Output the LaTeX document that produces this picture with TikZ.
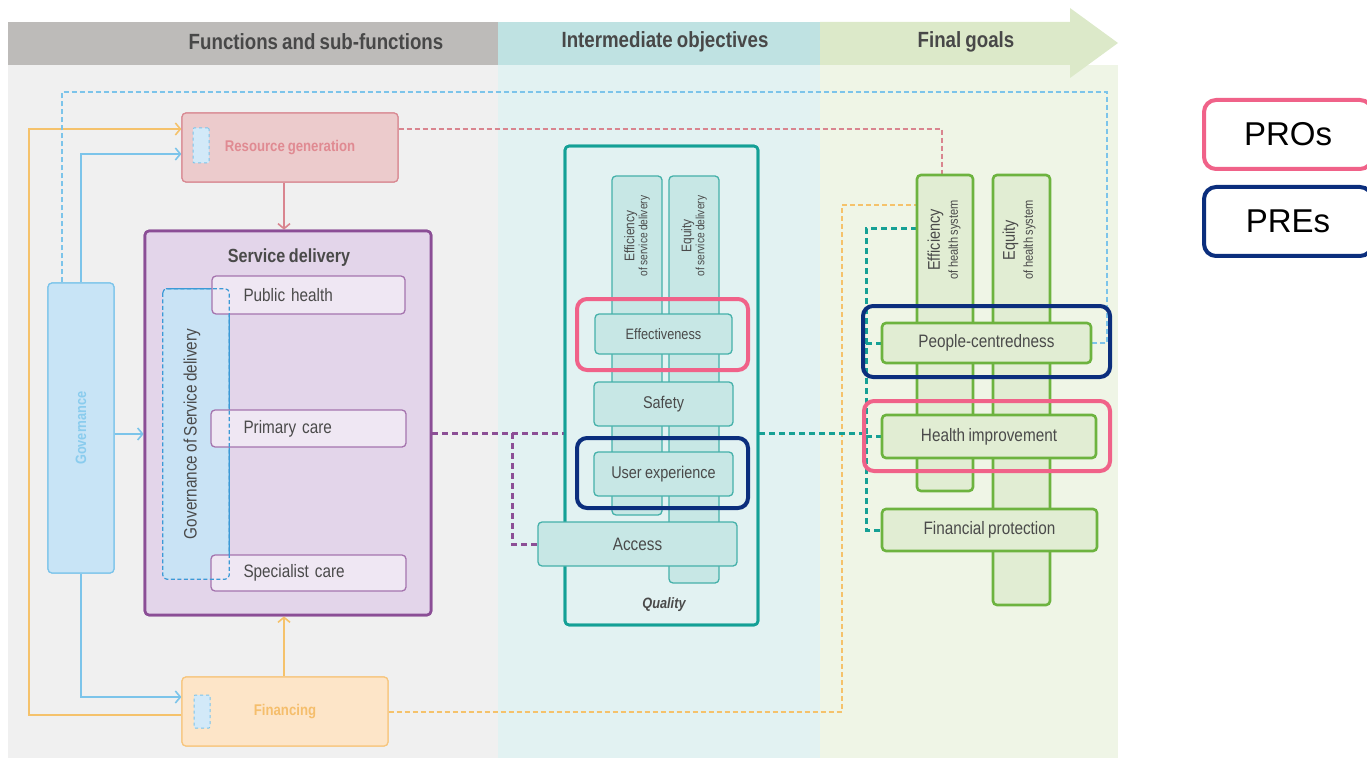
\documentclass[tikz,border=0pt]{standalone}
\usepackage{fontspec}
\setmainfont{Liberation Sans}[FakeStretch=0.85,WordSpace=0.8]
\newfontfamily\legfont{Liberation Sans}
\usetikzlibrary{arrows.meta}
\definecolor{hdgray}{HTML}{BDBBB9}
\definecolor{bdgray}{HTML}{F0F0F0}
\definecolor{hdteal}{HTML}{BFE2E2}
\definecolor{bdteal}{HTML}{E2F2F2}
\definecolor{hdgreen}{HTML}{DCE9C9}
\definecolor{bdgreen}{HTML}{EFF5E6}
\definecolor{hdtxt}{HTML}{484848}
\definecolor{txt}{HTML}{4A4A4A}
\definecolor{rgfill}{HTML}{ECCBCC}
\definecolor{rgdraw}{HTML}{D98A93}
\definecolor{rgtxt}{HTML}{E08A92}
\definecolor{finfill}{HTML}{FDE5C8}
\definecolor{findraw}{HTML}{F7C67E}
\definecolor{fintxt}{HTML}{F5BE6C}
\definecolor{markfill}{HTML}{D2E9F8}
\definecolor{blueline}{HTML}{7CC4EA}
\definecolor{govfill}{HTML}{C8E4F6}
\definecolor{govtxt}{HTML}{8ACCEE}
\definecolor{sdfill}{HTML}{E3D5EA}
\definecolor{sddraw}{HTML}{8B4E96}
\definecolor{subfill}{HTML}{EFE7F3}
\definecolor{subdraw}{HTML}{A574AE}
\definecolor{gsdfill}{HTML}{C9E3F5}
\definecolor{gsddraw}{HTML}{3C9AD6}
\definecolor{qdraw}{HTML}{14A096}
\definecolor{tbfill}{HTML}{C7E7E5}
\definecolor{tbdraw}{HTML}{45B1AA}
\definecolor{grdraw}{HTML}{6DB33F}
\definecolor{grfill}{HTML}{E1EDD3}
\definecolor{hlpink}{HTML}{F06289}
\definecolor{hlnavy}{HTML}{0B2E7D}
\definecolor{orline}{HTML}{F5C26B}
\definecolor{pkline}{HTML}{D9858F}
\definecolor{puline}{HTML}{8C4F96}
\definecolor{tlline}{HTML}{15A095}
\begin{document}
\begin{tikzpicture}[x=1pt,y=-1pt,
  hdtext/.style={text=hdtxt,font=\bfseries\fontsize{22}{24}\selectfont},
  bx/.style={rectangle,rounded corners=4pt,inner sep=0pt,align=center},
  rgbox/.style={bx,fill=rgfill,draw=rgdraw,line width=1.2pt,text=rgtxt,font=\bfseries\fontsize{15.5}{17}\selectfont},
  finbox/.style={bx,fill=finfill,draw=findraw,line width=1.2pt,text=fintxt,font=\bfseries\fontsize{15.5}{17}\selectfont},
  markbox/.style={bx,rounded corners=1pt,fill=markfill,draw=blueline,dashed,line width=1pt},
  govbox/.style={bx,fill=govfill,draw=blueline,line width=1.2pt,text=govtxt,font=\bfseries\fontsize{15}{17}\selectfont},
  sdbox/.style={bx,fill=sdfill,draw=sddraw,line width=2.6pt},
  subbox/.style={bx,fill=subfill,draw=subdraw,line width=1.3pt,text width=130pt,align=left,text=txt,font=\fontsize{18}{20}\selectfont},
  tbox/.style={bx,fill=tbfill,draw=tbdraw,line width=1.3pt,text=txt,font=\fontsize{17}{19}\selectfont},
  gbox/.style={bx,fill=grfill,draw=grdraw,line width=2.6pt,text=txt,font=\fontsize{18}{20}\selectfont},
  hl/.style={rectangle,rounded corners=10pt,line width=4pt,minimum width=#1},
  legbox/.style={rectangle,rounded corners=12pt,line width=4pt,fill=white,minimum width=168pt,minimum height=69pt,font=\legfont\fontsize{33}{36}\selectfont},
  arr/.style={-{Straight Barb[length=5pt,width=12pt]}},
  bline/.style={draw=blueline,line width=1.6pt},
  oline/.style={draw=orline,line width=1.6pt},
  pline/.style={draw=pkline,line width=1.6pt},
  bdash/.style={draw=blueline,line width=1.6pt,dash pattern=on 5pt off 3pt},
  pdash/.style={draw=pkline,line width=1.6pt,dash pattern=on 5pt off 3pt},
  odash/.style={draw=orline,line width=2pt,dash pattern=on 5pt off 3pt},
  pudash/.style={draw=puline,line width=3pt,dash pattern=on 6pt off 4pt},
  tdash/.style={draw=tlline,line width=3pt,dash pattern=on 6pt off 4pt},
  collab/.style={rotate=90,align=center,text=txt,inner sep=0pt}
]
\useasboundingbox (0,0) rectangle (1367,759);
% backgrounds
\fill[hdgray] (8,22) rectangle (498,65);
\fill[bdgray] (8,65) rectangle (498,758);
\fill[hdteal] (498,22) rectangle (820,65);
\fill[bdteal] (498,65) rectangle (820,758);
\fill[bdgreen] (820,65) rectangle (1118,758);
\fill[hdgreen] (820,22) -- (1070,22) -- (1070,8) -- (1118,43) -- (1070,78) -- (1070,65) -- (820,65) -- cycle;
\node[hdtext] (h1) at (316,42) {Functions and sub-functions};
\node[hdtext] (h2) at (665,42) {Intermediate objectives};
\node[hdtext] (h3) at (966,42) {Final goals};

% nodes placed first (positions for connectors)
\node[rgbox,minimum width=216pt,minimum height=69pt] (rg) at (290,147.5) {Resource generation};
\node[finbox,minimum width=206pt,minimum height=69pt] (fin) at (285,711.5) {Financing};
\node[govbox,minimum width=66pt,minimum height=290pt] (gov) at (81,428) {\rotatebox{90}{Governance}};
\node[sdbox,minimum width=286pt,minimum height=384pt] (sd) at (288,423) {};
\node[bx,draw=qdraw,line width=2.6pt,minimum width=193pt,minimum height=479pt] (q) at (661.5,385.5) {};
\node[bx,minimum width=56pt,minimum height=316pt] (ehs) at (945,333) {};
\node[bx,minimum width=57pt,minimum height=430pt] (eqhs) at (1021.5,390) {};
\node[bx,minimum width=209pt,minimum height=40pt] (pcn) at (986.5,343) {};
\node[bx,minimum width=214pt,minimum height=43pt] (hi) at (989,436.5) {};
\node[bx,minimum width=215pt,minimum height=42pt] (fp) at (989.5,530) {};
\node[bx,minimum width=199pt,minimum height=44pt] (acc) at (637.5,544) {};

% connectors
\coordinate (ocorner) at (29,715);
\coordinate (otop) at (29,129);
\draw[oline,arr] (fin.west |- ocorner) -- (ocorner) -- (otop) -- (rg.west |- otop);
\coordinate (btop) at (81,154);
\draw[bline,arr] (gov.north) -- (gov.north |- btop) -- (rg.west |- btop);
\coordinate (bbot) at (81,697);
\draw[bline,arr] (gov.south) -- (gov.south |- bbot) -- (fin.west |- bbot);
\coordinate (gy) at (0,434);
\draw[bline,arr] (gov.east |- gy) -- (sd.west |- gy);
\coordinate (px) at (284,0);
\draw[pline,arr] (rg.south -| px) -- (sd.north -| px);
\draw[oline,arr] (fin.north -| px) -- (sd.south -| px);
\coordinate (bd1) at (62,92);
\coordinate (bd2) at (1107,92);
\draw[bdash] (gov.north -| bd1) -- (bd1) -- (bd2) -- (bd2 |- pcn.east) -- (pcn.east);
\coordinate (pd) at (942,129);
\draw[pdash] (rg.east |- pd) -- (pd) -- (pd |- ehs.north);
\coordinate (od) at (842,205);
\draw[odash] (fin.east) -- (fin.east -| od) -- (od) -- (ehs.west |- od);
\coordinate (pu) at (512,433);
\draw[pudash] (sd.east |- pu) -- (q.west |- pu);
\draw[pudash] (pu) -- (pu |- acc.west) -- (acc.west);
\coordinate (tx) at (866,433);
\draw[tdash] (q.east |- tx) -- (tx);
\coordinate (ttop) at (866,229);
\draw[tdash] (ehs.west |- ttop) -- (ttop) -- (ttop |- fp.west) -- (fp.west);
\draw[tdash] (ttop |- pcn.west) -- (pcn.west);
\draw[tdash] (ttop |- hi.west) -- (hi.west);

% redraw boxes over connectors
\node[rgbox,minimum width=216pt,minimum height=69pt] at (rg) {Resource generation};
\node[markbox,minimum width=16pt,minimum height=35pt] (rgm) at (201,145.5) {};
\node[finbox,minimum width=206pt,minimum height=69pt] at (fin) {Financing};
\node[markbox,minimum width=16pt,minimum height=33pt] (finm) at (202,711.5) {};
\node[govbox,minimum width=66pt,minimum height=290pt] at (gov) {\rotatebox{90}{Governance}};

% service delivery
\node[sdbox,minimum width=286pt,minimum height=384pt] at (sd) {};
\node[text=txt,font=\bfseries\fontsize{19}{21}\selectfont] (sdt) at (289,258) {Service delivery};
\node[bx,fill=gsdfill,minimum width=66pt,minimum height=290pt] (gsd) at (196,434) {};
\draw[gsddraw,line width=1.2pt] ([xshift=3pt]gsd.north west) -- ([xshift=-3pt]gsd.north east) arc[start angle=90,end angle=0,radius=3pt] -- (gsd.south east);
\node[subbox,minimum width=193pt,minimum height=38pt] (ph) at (308.5,295) {Public health};
\node[subbox,minimum width=195pt,minimum height=37pt] (pc) at (308.5,428.5) {Primary care};
\node[subbox,minimum width=195pt,minimum height=36pt] (sc) at (308.5,573) {Specialist care};
\draw[gsddraw,line width=1.2pt,dash pattern=on 4pt off 2.5pt,rounded corners=4pt] (gsd.north west) rectangle (gsd.south east);
\node[text=txt,font=\fontsize{18}{20}\selectfont] (gsdt) at (192,434) {\rotatebox{90}{Governance of Service delivery}};

% quality
\node[bx,draw=qdraw,line width=2.6pt,minimum width=193pt,minimum height=479pt] at (q) {};
\node[bx,fill=tbfill,draw=tbdraw,line width=1.3pt,minimum width=50pt,minimum height=339pt] (esd) at (637,345.5) {};
\node[bx,fill=tbfill,draw=tbdraw,line width=1.3pt,minimum width=50pt,minimum height=407pt] (eqsd) at (694,379.5) {};
\node[collab,font=\fontsize{14}{13}\selectfont] (esdl) at (637,236) {Efficiency\\{\fontsize{12}{12}\selectfont of service delivery}};
\node[collab,font=\fontsize{14}{13}\selectfont] (eqsdl) at (694,236) {Equity\\{\fontsize{12}{12}\selectfont of service delivery}};
\node[tbox,minimum width=137pt,minimum height=40pt,font=\fontsize{15}{17}\selectfont] (eff) at (663.5,334) {Effectiveness};
\node[tbox,minimum width=139pt,minimum height=44pt] (saf) at (663.5,404) {Safety};
\node[tbox,minimum width=139pt,minimum height=44pt] (ux) at (663.5,474) {User experience};
\node[tbox,minimum width=199pt,minimum height=44pt,font=\fontsize{18}{20}\selectfont] at (acc) {Access};
\node[text=txt,font=\bfseries\itshape\fontsize{15}{17}\selectfont] (ql) at (664,605) {Quality};

% final goals
\node[gbox,minimum width=56pt,minimum height=316pt] at (ehs) {};
\node[gbox,minimum width=57pt,minimum height=430pt] at (eqhs) {};
\node[collab,font=\fontsize{17}{18}\selectfont] (ehsl) at (944,240) {Efficiency\\{\fontsize{13}{14}\selectfont of health system}};
\node[collab,font=\fontsize{17}{18}\selectfont] (eqhsl) at (1019,240) {Equity\\{\fontsize{13}{14}\selectfont of health system}};
\node[gbox,minimum width=209pt,minimum height=40pt] at (pcn) {People-centredness};
\node[gbox,minimum width=214pt,minimum height=43pt] at (hi) {Health improvement};
\node[gbox,minimum width=215pt,minimum height=42pt] at (fp) {Financial protection};

% highlights
\node[hl=171pt,draw=hlpink,minimum height=71pt] (hl1) at (662.5,334.5) {};
\node[hl=171pt,draw=hlnavy,minimum height=70pt] (hl2) at (662.5,473) {};
\node[hl=247pt,draw=hlnavy,minimum height=71pt] (hl3) at (986.5,341.5) {};
\node[hl=246pt,draw=hlpink,minimum height=70pt] (hl4) at (987,436) {};

% legend
\node[legbox,draw=hlpink] (pros) at (1288,134.5) {PROs};
\node[legbox,draw=hlnavy] (pres) at (1288,221.5) {PREs};
\end{tikzpicture}
\end{document}
